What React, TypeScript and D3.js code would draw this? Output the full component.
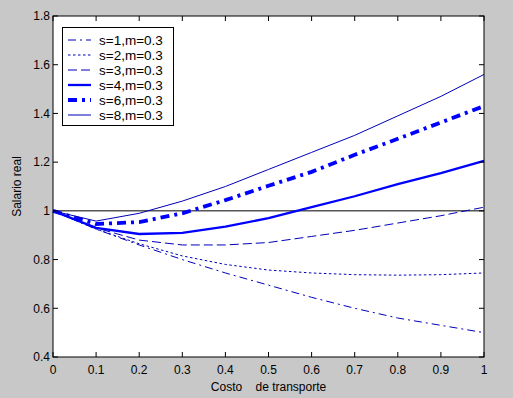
import * as d3 from "d3"

// costo de transporte, 0:0.1:1
const costo = [0, 0.1, 0.2, 0.3, 0.4, 0.5, 0.6, 0.7, 0.8, 0.9, 1]

const s1 = [1, 0.925, 0.86, 0.8, 0.745, 0.695, 0.645, 0.6, 0.56, 0.53, 0.5]
const s2 = [1, 0.925, 0.865, 0.815, 0.78, 0.757, 0.745, 0.738, 0.736, 0.738, 0.745]
const s3 = [1, 0.93, 0.88, 0.86, 0.86, 0.87, 0.895, 0.92, 0.95, 0.98, 1.015]
const s4 = [1, 0.93, 0.905, 0.91, 0.935, 0.97, 1.015, 1.06, 1.11, 1.155, 1.205]
const s6 = [1, 0.946, 0.954, 0.99, 1.044, 1.103, 1.16, 1.23, 1.296, 1.363, 1.43]
const s8 = [1, 0.958, 0.99, 1.04, 1.1, 1.17, 1.24, 1.31, 1.39, 1.47, 1.56]

const legendLabels = ["s=1,m=0.3", "s=2,m=0.3", "s=3,m=0.3", "s=4,m=0.3", "s=6,m=0.3", "s=8,m=0.3"]
const xTicks = [0, 0.1, 0.2, 0.3, 0.4, 0.5, 0.6, 0.7, 0.8, 0.9, 1]
const xTickLabels = ["0", "0.1", "0.2", "0.3", "0.4", "0.5", "0.6", "0.7", "0.8", "0.9", "1"]
const yTicks = [0.4, 0.6, 0.8, 1, 1.2, 1.4, 1.6, 1.8]
const yTickLabels = ["0.4", "0.6", "0.8", "1", "1.2", "1.4", "1.6", "1.8"]

const width = 513
const height = 398
const margin = { top: 16, right: 29, bottom: 41, left: 53 }
const font = "'Liberation Sans', Arial, sans-serif"

const styles = [
  { stroke: "#0000b8", width: 1, dash: "8,4,2,4" },
  { stroke: "#0000b8", width: 1, dash: "2.5,2.5" },
  { stroke: "#0000b8", width: 1, dash: "9,4" },
  { stroke: "#0000ff", width: 2.3, dash: "none" },
  { stroke: "#0000ff", width: 3.8, dash: "9,5,3,5" },
  { stroke: "#0000b8", width: 1, dash: "none" },
]

export default function App() {
  const series = [s1, s2, s3, s4, s6, s8]

  const x = d3.scaleLinear().domain([0, 1]).range([margin.left, width - margin.right])
  const y = d3.scaleLinear().domain([0.4, 1.8]).range([height - margin.bottom, margin.top])

  const line = d3
    .line<number>()
    .x((_, i) => x(costo[i]))
    .y((d) => y(d))

  const x0 = x(0)
  const x1 = x(1)
  const y0 = y(0.4)
  const y1 = y(1.8)
  const tick = 5

  return (
    <svg
      width={width}
      height={height}
      style={{ position: "absolute", left: 0, top: 0, background: "#c8c8c8" }}
      fontFamily={font}
    >
      <rect x={0} y={0} width={width} height={height} fill="#c8c8c8" />
      <rect x={x0} y={y1} width={x1 - x0} height={y0 - y1} fill="#ffffff" />

      {/* reference line at 1 */}
      <line x1={x0} x2={x1} y1={y(1)} y2={y(1)} stroke="#000" strokeWidth={1} />

      {series.map((s, i) => (
        <path
          key={i}
          d={line(s) ?? ""}
          fill="none"
          stroke={styles[i].stroke}
          strokeWidth={styles[i].width}
          strokeDasharray={styles[i].dash}
        />
      ))}

      {/* box */}
      <rect x={x0} y={y1} width={x1 - x0} height={y0 - y1} fill="none" stroke="#000" strokeWidth={1} />

      {/* x ticks */}
      {xTicks.map((t, i) => (
        <g key={"x" + i}>
          <line x1={x(t)} x2={x(t)} y1={y0} y2={y0 - tick} stroke="#000" />
          <line x1={x(t)} x2={x(t)} y1={y1} y2={y1 + tick} stroke="#000" />
          <text x={x(t)} y={374} textAnchor="middle" fontSize={12} fill="#000">
            {xTickLabels[i]}
          </text>
        </g>
      ))}

      {/* y ticks */}
      {yTicks.map((t, i) => (
        <g key={"y" + i}>
          <line x1={x0} x2={x0 + tick} y1={y(t)} y2={y(t)} stroke="#000" />
          <line x1={x1} x2={x1 - tick} y1={y(t)} y2={y(t)} stroke="#000" />
          <text x={50} y={y(t) + 4.3} textAnchor="end" fontSize={12} fill="#000">
            {yTickLabels[i]}
          </text>
        </g>
      ))}

      <text x={x(0.5)} y={391} textAnchor="middle" fontSize={12} fill="#000" xmlSpace="preserve" style={{ whiteSpace: "pre" }}>
        {"Costo    de transporte"}
      </text>
      <text
        transform={`translate(21,${(y0 + y1) / 2}) rotate(-90)`}
        textAnchor="middle"
        fontSize={12}
        fill="#000"
      >
        Salario real
      </text>

      {/* legend */}
      <g>
        <rect x={62.5} y={27.5} width={111} height={98} fill="#fff" stroke="#000" strokeWidth={1} />
        {legendLabels.map((lab, i) => {
          const ly = 40 + i * 15
          return (
            <g key={"l" + i}>
              <line
                x1={68}
                x2={91}
                y1={ly}
                y2={ly}
                stroke={styles[i].stroke}
                strokeWidth={styles[i].width}
                strokeDasharray={styles[i].dash}
              />
              <text x={99} y={ly + 4.8} fontSize={13.5} fill="#000">
                {lab}
              </text>
            </g>
          )
        })}
      </g>
    </svg>
  )
}
